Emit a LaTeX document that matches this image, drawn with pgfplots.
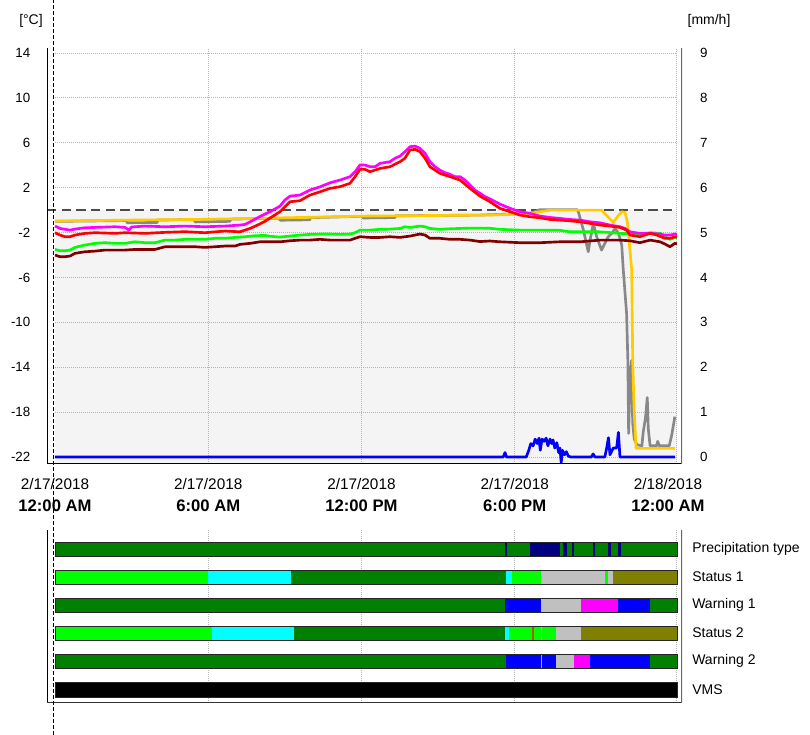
\documentclass[border=0pt]{standalone}
\usepackage{fontspec}
\setmainfont{Liberation Sans}
\usepackage{pgfplots}
\pgfplotsset{compat=1.18}

\definecolor{dgreen}{HTML}{008000}
\definecolor{navyc}{HTML}{000080}
\definecolor{limec}{HTML}{00FF00}
\definecolor{cyanc}{HTML}{00FFFF}
\definecolor{silverc}{HTML}{C0C0C0}
\definecolor{olivec}{HTML}{808000}
\definecolor{bluec}{HTML}{0000FF}
\definecolor{magc}{HTML}{FF00FF}
\definecolor{brownc}{HTML}{B05A00}
\definecolor{maroonc}{HTML}{800000}
\definecolor{goldc}{HTML}{FFCC00}
\definecolor{greyc}{HTML}{888888}
\definecolor{fillc}{HTML}{F4F4F4}
\definecolor{gridc}{HTML}{B4B4B4}
\definecolor{lightb}{HTML}{A8A8FF}

\newcommand{\seg}[5]{\addplot[fill=#1,draw=none,forget plot] coordinates {(#4,#2)(#5,#2)(#5,#3)(#4,#3)} -- cycle;}
\newcommand{\rowbox}[2]{\addplot[draw=black!85,line width=0.6pt,fill=none,forget plot] coordinates {(0,#1)(24.35,#1)(24.35,#2)(0,#2)} -- cycle;}
\newcommand{\bl}[1]{{\bfseries\fontsize{12.5}{14}\selectfont #1}}

\begin{document}
\begin{tikzpicture}
\path[use as bounding box] (0,0) rectangle (607.5pt,551.25pt);

% ---------------- top axis (temperature) ----------------
\begin{axis}[
  at={(35.25pt,203.25pt)}, anchor=south west, scale only axis,
  width=476.25pt, height=312pt,
  xmin=-0.313, xmax=24.55, ymin=-22.62, ymax=14.45,
  axis line style={draw=none},
  ytick={-22,-18,...,14},
  xtick={0,6,12,18,24},
  xticklabels={{2/17/2018\\[3.5pt]\bl{12:00 AM}},
               {2/17/2018\\[3.5pt]\bl{6:00 AM}},
               {2/17/2018\\[3.5pt]\bl{12:00 PM}},
               {2/17/2018\\[3.5pt]\bl{6:00 PM}},
               {2/18/2018\\[3.5pt]\bl{12:00 AM}}},
  major tick length=0pt,
  yticklabel style={font=\fontsize{10}{12}\selectfont, xshift=-9pt},
  xticklabel style={align=center, font=\fontsize{11.5}{13}\selectfont, yshift=-7.5pt},
  /pgf/number format/assume math mode=true,
]
% shaded area below freezing
\addplot[fill=fillc,draw=none,forget plot] coordinates {(0,-22.62)(24.35,-22.62)(24.35,0)(0,0)} -- cycle;
% grid
\pgfplotsinvokeforeach{-22,-18,...,14}{
  \draw[gridc, line width=0.75pt, dash pattern=on 0.75pt off 0.75pt] (axis cs:0,#1) -- (axis cs:24.35,#1);
}
\pgfplotsinvokeforeach{6,12,18,24.35}{
  \draw[gridc, line width=0.75pt, dash pattern=on 0.75pt off 0.75pt] (axis cs:#1,-22.62) -- (axis cs:#1,14.45);
}
% freezing line
\addplot[draw=black!70, line width=1.5pt, dash pattern=on 7pt off 4pt, forget plot] coordinates {(-0.313,0)(24.35,0)};

% grey
\addplot[greyc, line width=2pt, line join=round] coordinates {
(0,-1.0)(2.80,-0.93)(2.82,-1.12)(4.0,-1.1)(4.02,-0.88)(5.46,-0.85)(5.48,-1.05)(6.85,-1.0)(6.87,-0.8)(8.79,-0.72)(8.81,-0.9)(9.98,-0.86)(10.0,-0.67)(12.04,-0.55)(12.06,-0.7)(13.31,-0.66)(13.33,-0.5)(16.64,-0.44)(18.60,-0.29)(18.99,0.05)(20.45,0.05)(20.49,-0.14)(20.69,-1.78)(20.88,-3.71)(20.95,-2.67)(21.08,-1.18)(21.21,-2.37)(21.40,-3.56)(21.53,-2.96)(21.66,-2.37)(21.80,-2.07)(21.93,-1.63)(22.06,-2.07)(22.19,-3.1)(22.25,-5.3)(22.38,-9.2)(22.43,-13.4)(22.46,-19.9)(22.51,-15.5)(22.57,-13.4)(22.62,-19.0)(22.68,-20.4)(22.78,-20.9)(22.98,-21.0)(23.03,-19.8)(23.12,-18.5)(23.19,-16.7)(23.23,-19.5)(23.30,-21.0)(23.55,-21.0)(23.60,-20.6)(23.66,-21.0)(24.05,-21.0)(24.15,-20.0)(24.27,-18.4)
};
% gold
\addplot[goldc, line width=2pt, line join=round] coordinates {
(0,-0.97)(2.74,-0.89)(5.48,-0.83)(7.24,-0.76)(8.22,-0.72)(12.14,-0.53)(16.64,-0.44)(17.03,-0.44)(18.21,-0.35)(18.60,-0.29)(18.99,-0.14)(19.38,0)(21.40,0)(21.86,-1.1)(22.05,-0.5)(22.19,-0.14)(22.32,-0.2)(22.42,-1.2)(22.47,-2.5)(22.58,-5.3)(22.62,-13.4)(22.67,-17.5)(22.75,-21.23)(24.27,-21.23)
};
% maroon
\addplot[maroonc, line width=2pt, line join=round] coordinates {
(0,-4.0)(0.2,-4.15)(0.39,-4.15)(0.59,-4.09)(0.78,-3.85)(1.17,-3.71)(1.57,-3.65)(1.96,-3.56)(2.74,-3.56)(3.13,-3.5)(3.92,-3.5)(4.31,-3.26)(5.48,-3.26)(5.87,-3.32)(6.27,-3.26)(6.66,-3.2)(7.05,-3.2)(7.24,-3.05)(7.64,-2.96)(8.03,-2.82)(8.81,-2.82)(9.20,-2.73)(9.59,-2.67)(9.98,-2.67)(10.38,-2.6)(10.77,-2.67)(11.55,-2.67)(11.75,-2.51)(11.94,-2.37)(12.33,-2.43)(12.73,-2.43)(13.12,-2.37)(13.51,-2.43)(13.90,-2.31)(14.29,-2.13)(14.49,-2.22)(14.68,-2.51)(15.07,-2.51)(15.47,-2.6)(15.86,-2.6)(16.25,-2.67)(16.64,-2.8)(17.03,-2.75)(17.42,-2.82)(18.21,-2.9)(18.99,-2.9)(19.77,-2.82)(20.56,-2.82)(21.34,-2.67)(22.12,-2.67)(22.51,-2.73)(22.90,-2.9)(23.30,-2.67)(23.69,-2.82)(23.88,-3.02)(24.08,-3.26)(24.27,-2.96)(24.35,-3.0)
};
% lime
\addplot[limec, line width=2pt, line join=round] coordinates {
(0,-3.5)(0.2,-3.62)(0.39,-3.62)(0.59,-3.56)(0.78,-3.32)(1.17,-3.11)(1.57,-2.96)(1.96,-2.9)(2.35,-2.96)(2.74,-2.96)(3.13,-2.82)(3.52,-2.9)(3.92,-2.9)(4.31,-2.67)(4.70,-2.67)(5.09,-2.6)(5.87,-2.6)(6.27,-2.51)(6.66,-2.51)(7.05,-2.43)(7.44,-2.37)(7.83,-2.28)(8.22,-2.25)(8.42,-2.33)(8.81,-2.4)(9.20,-2.31)(9.59,-2.22)(9.98,-2.16)(10.38,-2.13)(10.77,-2.13)(11.16,-2.16)(11.55,-2.13)(11.75,-2.01)(11.94,-1.78)(12.33,-1.78)(12.73,-1.71)(13.12,-1.69)(13.51,-1.63)(13.70,-1.48)(13.90,-1.54)(14.29,-1.42)(14.49,-1.48)(14.68,-1.63)(15.07,-1.71)(15.47,-1.66)(15.86,-1.63)(16.25,-1.6)(16.64,-1.6)(17.03,-1.62)(17.42,-1.71)(18.21,-1.78)(18.99,-1.78)(19.77,-1.8)(20.16,-1.93)(20.56,-1.93)(21.34,-1.93)(22.12,-2.07)(22.90,-2.13)(23.30,-2.01)(23.69,-2.07)(23.88,-2.37)(24.08,-2.6)(24.27,-2.43)(24.35,-2.45)
};
% magenta
\addplot[magc, line width=2pt, line join=round] coordinates {
(0,-1.42)(0.2,-1.63)(0.39,-1.71)(0.59,-1.78)(0.78,-1.69)(1.17,-1.57)(1.57,-1.54)(2.35,-1.48)(2.74,-1.54)(2.9,-1.78)(3.0,-1.5)(3.52,-1.42)(4.31,-1.48)(5.09,-1.42)(5.87,-1.48)(6.66,-1.42)(7.24,-1.33)(7.44,-1.27)(7.64,-1.04)(7.96,-0.65)(8.22,-0.35)(8.42,-0.14)(8.81,0.36)(9.0,0.9)(9.20,1.25)(9.59,1.34)(9.98,1.79)(10.38,2.08)(10.77,2.44)(11.16,2.68)(11.55,2.98)(11.75,3.42)(11.94,4.02)(12.14,4.02)(12.33,3.87)(12.53,3.87)(12.73,4.17)(13.12,4.32)(13.31,4.62)(13.51,4.82)(13.70,5.2)(13.90,5.65)(14.10,5.71)(14.29,5.5)(14.49,5.06)(14.68,4.32)(14.88,3.87)(15.07,3.57)(15.27,3.34)(15.47,3.19)(15.66,2.98)(15.86,2.98)(16.05,2.68)(16.25,2.24)(16.44,1.79)(16.64,1.5)(16.84,1.2)(17.03,1.0)(17.42,0.54)(17.82,0.16)(18.21,-0.14)(18.60,-0.29)(18.99,-0.53)(19.38,-0.65)(19.77,-0.74)(20.16,-0.83)(20.56,-0.89)(20.95,-1.04)(21.34,-1.13)(21.73,-1.33)(22.12,-1.48)(22.32,-1.63)(22.51,-1.93)(22.90,-2.07)(23.30,-2.07)(23.69,-2.13)(23.88,-2.22)(24.08,-2.22)(24.27,-2.13)(24.35,-2.15)
};
% red
\addplot[red, line width=2pt, line join=round] coordinates {
(0,-2.01)(0.2,-2.22)(0.39,-2.37)(0.59,-2.37)(0.78,-2.22)(1.17,-2.07)(1.57,-2.01)(2.35,-2.07)(2.74,-2.01)(3.52,-2.07)(4.31,-1.98)(5.09,-1.92)(5.87,-2.01)(6.66,-1.86)(7.24,-1.93)(7.44,-1.78)(7.64,-1.63)(7.96,-1.3)(8.22,-1.0)(8.42,-0.7)(8.81,-0.14)(9.20,0.75)(9.59,0.84)(9.98,1.34)(10.38,1.64)(10.77,1.94)(11.16,2.09)(11.55,2.39)(11.75,2.98)(11.94,3.63)(12.14,3.63)(12.33,3.42)(12.73,3.72)(13.12,3.87)(13.51,4.32)(13.70,4.62)(13.90,5.36)(14.10,5.42)(14.29,5.2)(14.49,4.62)(14.68,3.87)(15.07,3.28)(15.47,2.98)(15.86,2.68)(16.25,1.94)(16.64,1.25)(17.03,0.75)(17.42,0.16)(17.82,-0.14)(18.21,-0.44)(18.60,-0.59)(18.99,-0.68)(19.38,-0.83)(19.77,-0.89)(20.16,-0.95)(20.56,-1.04)(20.95,-1.18)(21.34,-1.33)(21.73,-1.42)(22.12,-1.54)(22.38,-1.78)(22.51,-2.22)(22.90,-2.37)(23.30,-2.07)(23.56,-2.22)(23.88,-2.51)(24.08,-2.51)(24.27,-2.37)(24.35,-2.4)
};
\draw[black, line width=1.1pt] (rel axis cs:0,0) -- (rel axis cs:0,1);
\draw[black, line width=1.1pt] (rel axis cs:0,0) -- (rel axis cs:1,0);
\end{axis}

% ---------------- right axis (precipitation) ----------------
\begin{axis}[
  at={(35.25pt,203.25pt)}, anchor=south west, scale only axis,
  width=476.25pt, height=312pt,
  xmin=-0.313, xmax=24.55, ymin=-0.155, ymax=9.1125,
  axis line style={draw=none},
  xtick=\empty,
  ytick={0,1,...,9},
  yticklabel pos=right,
  major tick length=0pt,
  yticklabel style={font=\fontsize{10}{12}\selectfont, xshift=10pt},
  /pgf/number format/assume math mode=true,
]
\addplot[bluec, line width=2pt, line join=round] coordinates {
(0,0)(17.55,0)(17.62,0.1)(17.68,0)(18.45,0)(18.55,0.15)(18.63,0.3)(18.72,0.25)(18.80,0.4)(18.88,0.3)(18.95,0.42)(19.0,0.15)(19.07,0.4)(19.15,0.35)(19.23,0.42)(19.3,0.25)(19.38,0.4)(19.45,0.3)(19.5,0.38)(19.57,0.2)(19.65,0.32)(19.72,0.1)(19.77,0.2)(19.82,-0.12)(19.87,0.15)(19.95,0.05)(20.02,0.12)(20.1,0.02)(20.2,0)(21.0,0)(21.07,0.07)(21.14,0)(21.53,0)(21.6,0.2)(21.67,0.43)(21.73,0.05)(21.86,0.2)(21.99,0.2)(22.06,0.55)(22.12,0)(24.27,0)
};
\draw[black!60, line width=1.6pt] (rel axis cs:1,0) -- (rel axis cs:1,1);
\end{axis}

% ---------------- bottom status panel ----------------
\begin{axis}[
  at={(35.25pt,24pt)}, anchor=south west, scale only axis,
  width=476.25pt, height=129.75pt,
  xmin=-0.313, xmax=24.55, ymin=-703, ymax=-530,
  axis line style={draw=none},
  xtick=\empty, ytick=\empty,
]
\pgfplotsinvokeforeach{6,12,18,24.35}{
  \draw[gridc, line width=0.75pt, dash pattern=on 0.75pt off 0.75pt] (axis cs:#1,-703) -- (axis cs:#1,-530);
}
% Precipitation type
\seg{dgreen}{-556}{-542}{0}{24.35}
\seg{navyc}{-556}{-542}{17.62}{17.68}
\seg{navyc}{-556}{-542}{18.60}{19.77}
\seg{navyc}{-556}{-542}{19.89}{20.05}
\seg{navyc}{-556}{-542}{20.24}{20.32}
\seg{navyc}{-556}{-542}{21.07}{21.14}
\seg{navyc}{-556}{-542}{21.66}{21.76}
\seg{navyc}{-556}{-542}{22.05}{22.15}
\rowbox{-556}{-542}
% Status 1
\seg{limec}{-584}{-570}{0}{5.99}
\seg{cyanc}{-584}{-570}{5.99}{9.24}
\seg{dgreen}{-584}{-570}{9.24}{17.66}
\seg{cyanc}{-584}{-570}{17.66}{17.90}
\seg{limec}{-584}{-570}{17.90}{19.03}
\seg{silverc}{-584}{-570}{19.03}{21.55}
\seg{limec}{-584}{-570}{21.55}{21.66}
\seg{silverc}{-584}{-570}{21.66}{21.86}
\seg{olivec}{-584}{-570}{21.86}{24.35}
\rowbox{-584}{-570}
% Warning 1
\seg{dgreen}{-612}{-598}{0}{17.60}
\seg{bluec}{-612}{-598}{17.60}{19.03}
\seg{silverc}{-612}{-598}{19.03}{20.59}
\seg{magc}{-612}{-598}{20.59}{22.05}
\seg{bluec}{-612}{-598}{22.05}{23.30}
\seg{dgreen}{-612}{-598}{23.30}{24.35}
\rowbox{-612}{-598}
% Status 2
\seg{limec}{-640}{-626}{0}{6.15}
\seg{cyanc}{-640}{-626}{6.15}{9.36}
\seg{dgreen}{-640}{-626}{9.36}{17.60}
\seg{cyanc}{-640}{-626}{17.60}{17.78}
\seg{limec}{-640}{-626}{17.78}{18.68}
\seg{brownc}{-640}{-626}{18.68}{18.76}
\seg{limec}{-640}{-626}{18.76}{19.02}
\seg{silverc}{-640}{-626}{19.02}{19.07}
\seg{limec}{-640}{-626}{19.07}{19.62}
\seg{silverc}{-640}{-626}{19.62}{20.59}
\seg{olivec}{-640}{-626}{20.59}{24.35}
\rowbox{-640}{-626}
% Warning 2
\seg{dgreen}{-668}{-654}{0}{17.66}
\seg{bluec}{-668}{-654}{17.66}{19.02}
\seg{lightb}{-668}{-654}{19.02}{19.07}
\seg{bluec}{-668}{-654}{19.07}{19.62}
\seg{silverc}{-668}{-654}{19.62}{20.32}
\seg{magc}{-668}{-654}{20.32}{20.95}
\seg{bluec}{-668}{-654}{20.95}{23.30}
\seg{dgreen}{-668}{-654}{23.30}{24.35}
\rowbox{-668}{-654}
% VMS
\seg{black}{-697}{-682}{0}{24.35}
\rowbox{-697}{-682}
\draw[black, line width=1.1pt] (rel axis cs:0,0) -- (rel axis cs:0,1);
\draw[black!80, line width=1.1pt] (rel axis cs:0,0) -- (rel axis cs:1,0);
\draw[black!60, line width=1.6pt] (rel axis cs:1,0) -- (rel axis cs:1,1);
\end{axis}

% labels
\begin{scope}[every node/.style={inner sep=0pt, font=\fontsize{10.5}{12}\selectfont}]
\node[anchor=west] at (519pt,{(735-549)*0.75pt}) {Precipitation type};
\node[anchor=west] at (519pt,{(735-577)*0.75pt}) {Status 1};
\node[anchor=west] at (519pt,{(735-605)*0.75pt}) {Warning 1};
\node[anchor=west] at (519pt,{(735-633)*0.75pt}) {Status 2};
\node[anchor=west] at (519pt,{(735-661)*0.75pt}) {Warning 2};
\node[anchor=west] at (519pt,{(735-689.5)*0.75pt}) {VMS};
\node at ({31*0.75pt},{(735-21)*0.75pt}) {[°C]};
\node at ({709*0.75pt},{(735-21)*0.75pt}) {[mm/h]};
\end{scope}
% cursor line
\draw[black, line width=0.9pt, dash pattern=on 3pt off 1.5pt] ({53.5*0.75pt},0) -- ({53.5*0.75pt},551.25pt);
\end{tikzpicture}
\end{document}
